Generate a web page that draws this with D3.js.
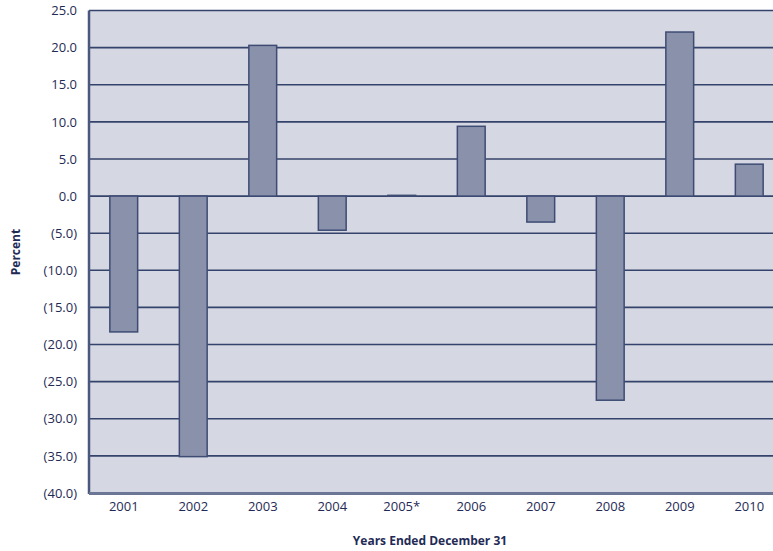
<!DOCTYPE html>
<html>
<head>
<meta charset="utf-8">
<script src="https://cdn.jsdelivr.net/npm/d3@7"></script>
<style>
  html, body { margin: 0; padding: 0; background: #ffffff; }
  svg { display: block; }
  text { font-family: "Open Sans", "Noto Sans", sans-serif; fill: #1f2b55; }
</style>
</head>
<body>
<svg id="chart" width="773" height="551"></svg>
<script>
// Annual return, percent, by year
const years = ["2001", "2002", "2003", "2004", "2005*", "2006", "2007", "2008", "2009", "2010"];
const returns = [-18.3, -35.1, 20.3, -4.6, 0.1, 9.4, -3.5, -27.5, 22.1, 4.3];
const tickValues = [25, 20, 15, 10, 5, 0, -5, -10, -15, -20, -25, -30, -35, -40];

const svg = d3.select("#chart");
const margin = { left: 89, top: 10.5, bottom: 493 };
const plotRight = 784;

const x = d3.scaleBand().domain(years).range([margin.left, plotRight]).paddingInner(0.6).paddingOuter(0.3);
const y = d3.scaleLinear().domain([-40, 25]).range([margin.bottom, margin.top]);

const fmt = v => v < 0 ? "(" + d3.format(".1f")(-v) + ")" : d3.format(".1f")(v);

const lineColor = "#34436b";

// plot background
svg.append("rect")
  .attr("x", margin.left).attr("y", margin.top)
  .attr("width", plotRight - margin.left).attr("height", margin.bottom - margin.top)
  .attr("fill", "#d5d7e2");

// horizontal gridlines
svg.append("g").selectAll("line").data(tickValues).join("line")
  .attr("x1", margin.left).attr("x2", plotRight)
  .attr("y1", d => y(d)).attr("y2", d => y(d))
  .attr("stroke", lineColor).attr("stroke-width", 1.6);

// bars
svg.append("g").selectAll("rect").data(years).join("rect")
  .attr("x", d => x(d))
  .attr("width", x.bandwidth())
  .attr("y", (d, i) => y(Math.max(0, returns[i])))
  .attr("height", (d, i) => Math.abs(y(returns[i]) - y(0)))
  .attr("fill", "#8a91ab")
  .attr("stroke", "#3e4c74")
  .attr("stroke-width", 1.5);

// left and bottom frame
svg.append("line")
  .attr("x1", margin.left).attr("x2", margin.left)
  .attr("y1", margin.top).attr("y2", margin.bottom + 1)
  .attr("stroke", "#4a5880").attr("stroke-width", 2.5);
svg.append("line")
  .attr("x1", margin.left).attr("x2", plotRight)
  .attr("y1", margin.bottom + 0.5).attr("y2", margin.bottom + 0.5)
  .attr("stroke", "#6c7796").attr("stroke-width", 3);

// y axis labels
const yAxis = d3.axisLeft(y).tickValues(tickValues).tickFormat(fmt).tickSize(0).tickPadding(12);
const gy = svg.append("g").attr("transform", `translate(${margin.left},0)`).call(yAxis);
gy.select(".domain").remove();
gy.selectAll("text").attr("font-size", 13).attr("fill", "#1f2b55")
  .style("font-family", "'Open Sans', 'Noto Sans', sans-serif");

// x axis labels
const xAxis = d3.axisBottom(x).tickSize(0).tickPadding(9);
const gx = svg.append("g").attr("transform", `translate(0,${margin.bottom})`).call(xAxis);
gx.select(".domain").remove();
gx.selectAll("text").attr("font-size", 13).attr("fill", "#1f2b55")
  .style("font-family", "'Open Sans', 'Noto Sans', sans-serif");

// axis titles
svg.append("text")
  .attr("x", 430).attr("y", 545)
  .attr("text-anchor", "middle")
  .attr("font-size", 12).attr("font-weight", "bold")
  .text("Years Ended December 31");
svg.append("text")
  .attr("transform", "translate(20,252) rotate(-90)")
  .attr("text-anchor", "middle")
  .attr("font-size", 12).attr("font-weight", "bold")
  .text("Percent");
</script>
</body>
</html>
